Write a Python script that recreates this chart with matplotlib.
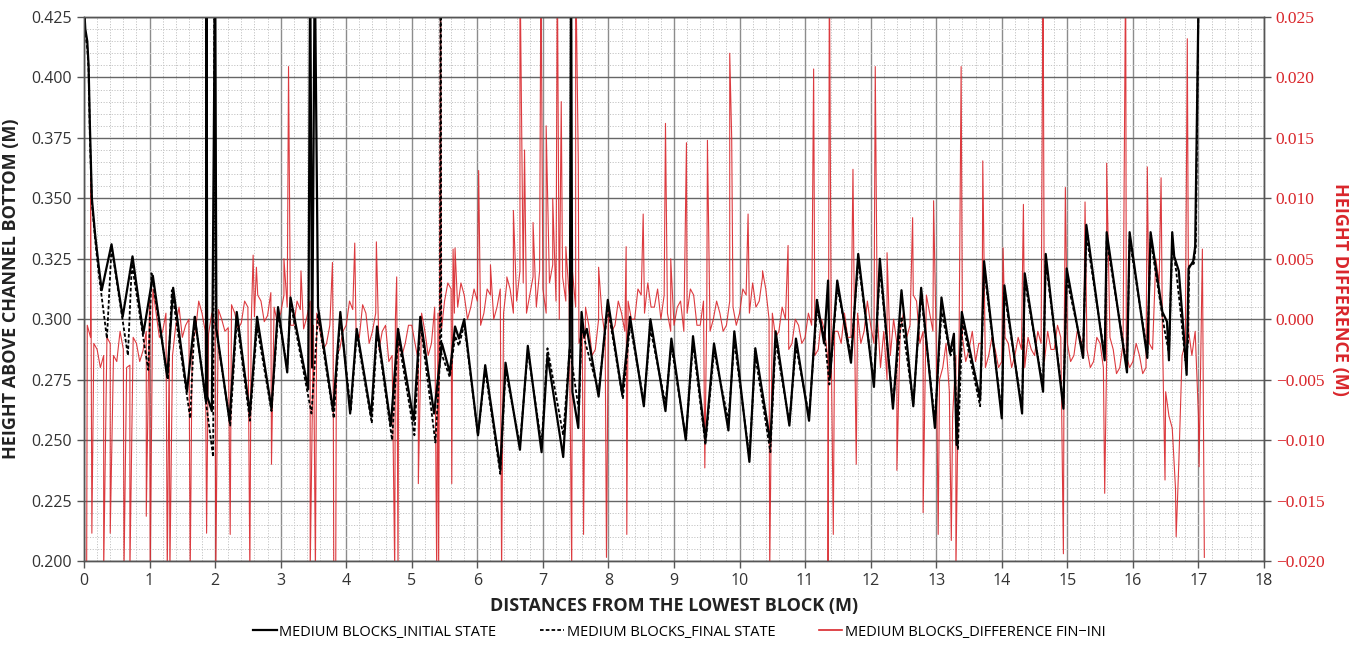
import numpy as np
import matplotlib
matplotlib.use('Agg')
import matplotlib.pyplot as plt
from matplotlib.lines import Line2D
from matplotlib.ticker import MultipleLocator, FuncFormatter

# ---- black profiles: vertices of the height profile (x in m, height in m) ----
ini_x = [0.00, 0.02, 0.05, 0.07, 0.09, 0.12, 0.17, 0.22, 0.27, 0.42, 0.59, 0.74, 0.905, 1.05, 1.27, 1.36,
         1.57, 1.69, 1.86, 1.87, 1.88, 1.95, 2.00, 2.02, 2.22, 2.33, 2.53, 2.64, 2.86, 2.96, 3.10, 3.15,
         3.42, 3.45, 3.48, 3.52, 3.57, 3.80, 3.91, 4.06, 4.16, 4.38, 4.47, 4.68, 4.79, 5.03, 5.13, 5.34,
         5.46, 5.58, 5.66, 5.72, 5.80, 6.01, 6.12, 6.35, 6.43, 6.65, 6.77, 6.98, 7.07, 7.31, 7.41, 7.43,
         7.45, 7.54, 7.59, 7.63, 7.67, 7.85, 7.99, 8.21, 8.33, 8.54, 8.64, 8.87, 8.96, 9.18, 9.29, 9.48,
         9.61, 9.83, 9.92, 10.15, 10.24, 10.47, 10.55, 10.76, 10.86, 11.06, 11.18, 11.29, 11.35, 11.38,
         11.49, 11.70, 11.81, 12.05, 12.14, 12.34, 12.47, 12.65, 12.77, 12.98, 13.08, 13.21, 13.27, 13.31,
         13.39, 13.67, 13.73, 14.00, 14.04, 14.31, 14.35, 14.63, 14.67, 14.94, 14.99, 15.24, 15.29, 15.57,
         15.60, 15.91, 15.95, 16.22, 16.27, 16.45, 16.52, 16.55, 16.60, 16.63, 16.70, 16.77, 16.82, 16.85,
         16.92, 16.95, 17.00]
ini_h = [0.430, 0.420, 0.415, 0.405, 0.380, 0.350, 0.335, 0.323, 0.312, 0.331, 0.301, 0.326, 0.294, 0.318, 0.276, 0.313,
         0.270, 0.301, 0.266, 0.450, 0.268, 0.262, 0.450, 0.296, 0.258, 0.303, 0.261, 0.301, 0.263, 0.305, 0.278, 0.309,
         0.271, 0.450, 0.280, 0.450, 0.305, 0.262, 0.303, 0.261, 0.296, 0.260, 0.297, 0.256, 0.296, 0.258, 0.301, 0.261,
         0.290, 0.278, 0.297, 0.292, 0.300, 0.252, 0.281, 0.238, 0.282, 0.246, 0.289, 0.245, 0.285, 0.243, 0.289, 0.450,
         0.270, 0.255, 0.303, 0.293, 0.296, 0.268, 0.308, 0.269, 0.301, 0.264, 0.300, 0.262, 0.292, 0.250, 0.293, 0.250,
         0.290, 0.254, 0.295, 0.241, 0.288, 0.249, 0.295, 0.256, 0.292, 0.258, 0.308, 0.290, 0.316, 0.276,
         0.316, 0.282, 0.327, 0.272, 0.325, 0.263, 0.312, 0.264, 0.313, 0.255, 0.309, 0.286, 0.294, 0.248,
         0.303, 0.267, 0.324, 0.259, 0.314, 0.261, 0.319, 0.270, 0.327, 0.263, 0.321, 0.284, 0.339, 0.283,
         0.336, 0.278, 0.336, 0.284, 0.336, 0.303, 0.299, 0.283, 0.336, 0.326, 0.320, 0.296, 0.277, 0.321,
         0.324, 0.330, 0.430]

fin_x = [0.00, 0.02, 0.05, 0.07, 0.09, 0.12, 0.17, 0.22, 0.35, 0.42, 0.67, 0.73, 0.98, 1.03, 1.28, 1.34,
         1.62, 1.69, 1.97, 1.99, 2.01, 2.23, 2.33, 2.53, 2.64, 2.86, 2.96, 3.10, 3.15, 3.47, 3.57, 3.81,
         3.91, 4.07, 4.16, 4.39, 4.47, 4.70, 4.79, 5.04, 5.13, 5.36, 5.43, 5.44, 5.45, 5.58, 5.66, 5.72,
         5.80, 6.01, 6.12, 6.35, 6.43, 6.65, 6.77, 6.98, 7.07, 7.31, 7.41, 7.55, 7.59, 7.65, 7.85, 7.99,
         8.22, 8.33, 8.54, 8.64, 8.87, 8.96, 9.18, 9.29, 9.48, 9.61, 9.83, 9.92, 10.15, 10.24, 10.47, 10.55,
         10.76, 10.86, 11.06, 11.18, 11.30, 11.37, 11.49, 11.70, 11.81, 12.05, 12.14, 12.34, 12.47, 12.65,
         12.77, 12.98, 13.08, 13.22, 13.27, 13.33, 13.40, 13.67, 13.73, 14.00, 14.04, 14.31, 14.35, 14.63,
         14.67, 14.94, 14.99, 15.24, 15.29, 15.57, 15.60, 15.91, 15.95, 16.22, 16.27, 16.48, 16.55, 16.60,
         16.66, 16.72, 16.80, 16.84, 16.86, 16.93, 16.96, 17.00]
fin_h = [0.430, 0.418, 0.412, 0.403, 0.375, 0.348, 0.333, 0.320, 0.292, 0.330, 0.285, 0.323, 0.279, 0.319, 0.275, 0.312,
         0.259, 0.301, 0.243, 0.450, 0.297, 0.256, 0.300, 0.258, 0.297, 0.262, 0.302, 0.280, 0.307, 0.261, 0.302, 0.259,
         0.301, 0.262, 0.294, 0.257, 0.295, 0.250, 0.293, 0.252, 0.299, 0.249, 0.283, 0.450, 0.286, 0.276, 0.293, 0.289,
         0.298, 0.252, 0.279, 0.236, 0.279, 0.248, 0.287, 0.248, 0.288, 0.252, 0.288, 0.262, 0.297, 0.290, 0.270, 0.305,
         0.267, 0.298, 0.266, 0.296, 0.265, 0.289, 0.251, 0.290, 0.248, 0.287, 0.258, 0.291, 0.243, 0.285, 0.245, 0.291,
         0.257, 0.289, 0.260, 0.304, 0.292, 0.273, 0.313, 0.285, 0.324, 0.274, 0.321, 0.265, 0.301, 0.265,
         0.310, 0.258, 0.303, 0.285, 0.290, 0.246, 0.299, 0.264, 0.321, 0.261, 0.311, 0.263, 0.316, 0.272,
         0.324, 0.265, 0.317, 0.286, 0.335, 0.285, 0.333, 0.280, 0.333, 0.286, 0.333, 0.296, 0.286, 0.331,
         0.320, 0.305, 0.283, 0.290, 0.322, 0.323, 0.330, 0.430]

# ---- red difference (mm), sampled every 0.1 m from 0.0 and at the mid points 0.05 m ----
diff_base_mm = [0.5, -1.5, -2.5, -3.0, -2.0, -3.5, -2.5, -3.8, -2.0, -2.6,
                1.5, 0.5, -1.0, -2.0, -0.5, -1.5, 0.0, -1.0, 0.5, -1.2,
                -0.5, 0.0, -0.7, 0.5, -0.3, 1.0, 0.2, 1.5, 0.3, 1.0,
                0.5, 1.0, -0.5, 0.8, 0.2, -0.5, -1.0, -2.0, -1.5, -2.5,
                -0.5, 0.8, -1.5, 0.5, -1.0, -2.5, -0.5, -3.0, -1.5, -2.0,
                -0.5, -3.5, -1.0, -2.0, 0.5, 1.5, 2.5, 1.0, 2.0, 1.0,
                1.5, 0.5, 2.0, 1.0, 0.5, 2.5, 1.5, 3.0, 2.0, 1.0,
                2.5, 3.0, 1.5, 3.5, 2.0, 1.0, -1.0, -0.5, -2.5, 0.5,
                1.0, -0.5, 0.5, 1.5, 0.0, 2.0, 3.0, 1.0, 0.0, 0.5,
                -0.5, 1.5, 0.5, 2.0, -0.5, 1.0, 0.0, 0.5, -0.5, 1.0,
                0.5, 2.0, 3.0, 1.5, 2.5, 0.5, -1.0, 0.0, -2.0, -0.5,
                -1.5, -0.5, -2.5, -1.0, -3.0, -1.0, 0.5, -1.5, 0.5, -1.0,
                -0.5, 0.5, -1.0, -3.0, -2.0, 0.5, -0.5, 1.5, -1.0, 0.5,
                -2.0, -4.0, -6.0, -3.0, -1.5, -2.5, -3.5, -2.0, -3.0, -2.5,
                -3.5, -2.0, -3.0, -2.5, -1.5, -3.0, -2.0, -1.0, -2.5, -1.5,
                -2.0, -3.0, -1.5, -2.5, -3.5, -2.0, -3.0, -2.5, -4.0, -3.0,
                -3.5, -3.0, -4.0, -2.5, 3.0, -6.0, -9.0, -12.0, -2.0, -3.0,
                -8.0]
diff_mid_mm = [-0.5, -2.0, -4.0, -1.5, -3.0, -1.0, -4.0, -1.5, -3.5, -1.0,
               2.5, -1.5, 0.5, -3.0, 1.0, -0.5, -2.0, 1.5, -1.0, 0.5,
               0.8, -1.0, 1.2, -0.8, 1.5, -0.5, 2.0, -0.2, 2.2, -0.3,
               2.0, -0.5, 1.5, -0.8, 1.5, 0.5, -2.5, -0.5, -3.0, -1.0,
               1.5, -1.0, 1.2, -2.0, 0.5, -1.0, -3.5, 0.0, -3.0, -0.5,
               -2.0, 0.5, -3.0, 1.0, -1.0, 3.0, 0.5, 3.0, 0.0, 2.5,
               -0.5, 2.5, 0.0, 2.5, 3.0, 0.5, 4.0, 0.5, 3.5, 4.0,
               0.5, 4.5, 0.0, 1.5, 4.0, -2.0, 1.0, -3.0, 0.0, -1.5,
               -1.0, 1.5, -1.0, 0.0, 2.5, 0.5, 1.0, 2.5, 2.0, -1.0,
               1.0, -1.0, 2.5, -0.5, 1.5, -1.0, 1.5, -1.0, 1.5, -0.5,
               2.5, 0.5, 1.0, 3.5, 0.0, -1.5, 1.0, -2.5, 0.0, -2.0,
               0.5, -3.0, 0.0, -3.5, -1.0, -2.0, -1.5, 1.0, -2.0, 1.5,
               -2.0, -4.0, -5.0, 0.0, -1.0, -1.5, 2.0, -2.0, 2.0, -1.0,
               -5.0, -2.0, -8.0, -1.0, -3.5, -1.0, -2.0, -4.0, -1.5, -4.0,
               -1.5, -4.0, -1.5, -4.0, -2.5, -1.0, -3.5, -2.5, -0.5, -3.0,
               -3.5, -1.0, -3.0, -4.0, -1.5, -4.0, -1.5, -4.5, -2.0, -4.0,
               -2.0, -4.5, -2.0, 5.0, -1.0, -8.0, -14.0, -3.0, -1.0, -1.0]
spike_x = [0.10, 2.58, 2.63, 3.05, 3.12, 3.31, 3.79, 4.13, 4.46, 4.77, 5.44, 5.63, 5.66, 6.02, 6.20,
           6.45, 6.55, 6.65, 6.72, 6.85, 6.97, 7.05, 7.15, 7.22, 7.28, 7.35, 7.50, 7.54, 7.85, 8.27,
           8.53, 8.87, 8.95, 9.19, 9.51, 9.85, 9.88, 10.13, 10.35, 10.74, 11.13, 11.37, 11.73, 12.07,
           12.25, 12.64, 12.96, 13.38, 13.71, 14.02, 14.33, 14.63, 14.97, 15.27, 15.60, 15.89, 16.22,
           16.43, 16.83, 17.06,
           0.01, 0.04, 0.12, 0.30, 0.40, 0.61, 0.70, 0.95, 1.01, 1.27, 1.31, 1.62, 1.87, 2.01, 2.23,
           2.53, 2.86, 3.45, 3.53, 3.81, 3.84, 4.74, 4.79, 5.10, 5.38, 5.41, 5.61, 6.37, 7.44, 7.62,
           7.97, 8.28, 9.47, 10.46, 11.35, 11.43, 11.78, 12.40, 12.80, 13.03, 13.23, 13.30, 14.94,
           15.57, 16.49, 16.66, 17.01, 17.09]
spike_mm = [12.3, 5.3, 4.3, 5.0, 20.9, 4.0, 4.7, 6.3, 6.4, 3.5, 30.0, 5.8, 5.9, 12.3, 4.5,
            3.5, 9.0, 30.0, 14.0, 8.0, 30.0, 16.0, 10.0, 30.0, 18.0, 6.0, 30.0, 13.0, 4.3, 6.0,
            8.7, 16.2, 5.0, 14.6, 14.8, 22.0, 15.0, 8.7, 4.0, 6.1, 20.7, 30.0, 12.4, 20.9,
            5.5, 8.4, 9.8, 20.9, 13.1, 5.9, 9.5, 30.0, 10.9, 9.7, 12.9, 30.0, 12.6,
            11.7, 23.2, 5.8,
            -20.5, -22.0, -17.7, -21.0, -17.7, -21.0, -21.0, -16.3, -21.0, -21.0, -21.0, -21.0, -17.7, -21.0, -17.8,
            -21.0, -12.0, -21.0, -21.0, -21.0, -21.0, -21.0, -21.0, -13.6, -21.0, -21.0, -13.6, -21.0, -21.0, -17.8,
            -19.7, -17.8, -12.3, -21.0, -21.0, -17.8, -12.0, -12.5, -16.0, -17.8, -18.3, -21.0, -19.4,
            -14.4, -13.3, -18.0, -12.2, -19.7]

# merge the sampled points and the spikes along x
base_x = np.round(np.arange(len(diff_base_mm)) * 0.1, 2)
mid_x = np.round(np.arange(len(diff_mid_mm)) * 0.1 + 0.05, 2)
rx = np.concatenate([base_x, mid_x, spike_x])
ry = np.concatenate([diff_base_mm, diff_mid_mm, spike_mm]) / 1000.0
order = np.argsort(rx, kind='stable')
rx, ry = rx[order], ry[order]

RED = '#d9262b'


def fmt3(v, pos):
    return f'{v:.3f}'.replace('-', '\u2212')


fig = plt.figure(figsize=(13.59, 6.53), dpi=100)
ax = fig.add_axes([84 / 1359, 1 - 561 / 653, 1180 / 1359, 544 / 653])
ax2 = ax.twinx()
ax.set_zorder(3)
ax.patch.set_visible(False)
ax2.set_zorder(1)
ax2.xaxis.set_visible(True)

# grid on the lower (red) axes so it sits under every line
ax2.set_xlim(0, 18)
ax2.set_ylim(-0.020, 0.025)
ax2.xaxis.set_major_locator(MultipleLocator(1))
ax2.xaxis.set_minor_locator(MultipleLocator(0.2))
ax2.yaxis.set_major_locator(MultipleLocator(0.005))
ax2.yaxis.set_minor_locator(MultipleLocator(0.001))
ax2.grid(True, axis='x', which='major', color='#8c8c8c', lw=1.0)
ax2.grid(True, axis='y', which='major', color='#666666', lw=1.0)
ax2.grid(True, which='minor', color='#c4c4c4', lw=0.7, ls=(0, (1.2, 1.6)))
ax2.set_axisbelow(True)

ax2.plot(rx, ry, color=RED, lw=0.8, alpha=0.9)

ax.plot(fin_x, fin_h, color='black', lw=1.3, ls=(0, (2, 1.2)))
ax.plot(ini_x, ini_h, color='black', lw=1.6)

ax.set_xlim(0, 18)
ax.set_ylim(0.200, 0.425)
ax.xaxis.set_major_locator(MultipleLocator(1))
ax.yaxis.set_major_locator(MultipleLocator(0.025))
ax.yaxis.set_major_formatter(FuncFormatter(fmt3))
ax2.yaxis.set_major_formatter(FuncFormatter(fmt3))

for a in (ax, ax2):
    for s in a.spines.values():
        s.set_color('#555555')
        s.set_linewidth(1.0)
ax.tick_params(axis='both', which='major', direction='out', length=5, width=1, color='#555555',
               labelsize=11.5, labelcolor='#333333')
ax.tick_params(axis='x', which='minor', length=0)
for lab in ax.get_xticklabels() + ax.get_yticklabels():
    lab.set_fontfamily('Open Sans')
ax2.tick_params(axis='y', which='major', direction='out', length=5, width=1, color='#555555',
                labelsize=12.5, labelcolor=RED)
ax2.tick_params(axis='y', which='minor', length=0)
ax2.tick_params(axis='x', which='both', length=0, labelbottom=False, labeltop=False)
for lab in ax2.get_yticklabels():
    lab.set_fontfamily('Liberation Serif')

ax.set_xlabel('DISTANCES FROM THE LOWEST BLOCK (M)', fontsize=13, fontweight='bold',
              family='Open Sans', color='#222222', labelpad=6)
ax.set_ylabel('HEIGHT ABOVE CHANNEL BOTTOM (M)', fontsize=13, fontweight='bold',
              family='Open Sans', color='#222222', labelpad=8)
ax2.set_ylabel('HEIGHT DIFFERENCE (M)', fontsize=13, fontweight='bold', family='Open Sans',
               color=RED, rotation=270, labelpad=18)

handles = [Line2D([], [], color='black', lw=1.6),
           Line2D([], [], color='black', lw=1.3, ls=(0, (2, 1.2))),
           Line2D([], [], color=RED, lw=1.2)]
labels = ['MEDIUM BLOCKS_INITIAL STATE', 'MEDIUM BLOCKS_FINAL STATE', 'MEDIUM BLOCKS_DIFFERENCE FIN\u2212INI']
fig.legend(handles, labels, loc='center', bbox_to_anchor=(0.5, 1 - 632 / 653), ncol=3, frameon=False,
           handlelength=1.6, handletextpad=0.2, columnspacing=3.0,
           prop={'family': 'Open Sans', 'size': 10.5})

fig.savefig('out.png', dpi=100, facecolor='white')
